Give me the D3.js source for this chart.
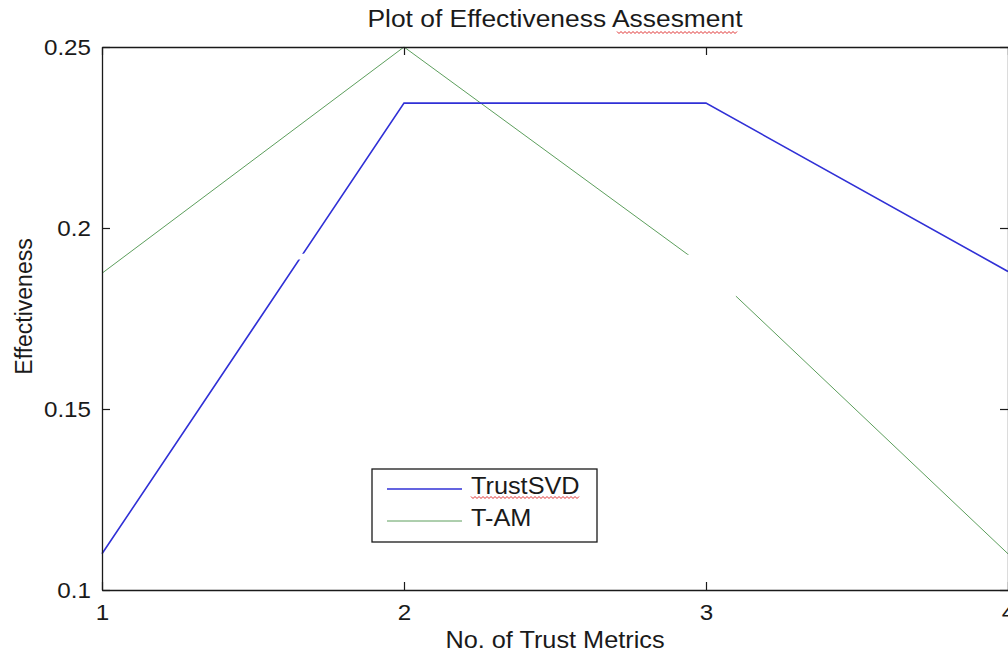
<!DOCTYPE html>
<html>
<head>
<meta charset="utf-8">
<script src="https://cdn.jsdelivr.net/npm/d3@7"></script>
<style>
  body { margin: 0; background: #fff; }
  text { font-family: "Liberation Sans", Arial, sans-serif; fill: #1a1a1a; }
</style>
</head>
<body>
<svg id="chart"></svg>
<script>
// Data
var metrics = [1, 2, 3, 4];
var trustSVD = [0.11, 0.2345, 0.2345, 0.188];
var tAM = [0.1875, 0.25, 0.189, 0.11];
var xTicks = [1, 2, 3, 4];
var yTicks = [0.1, 0.15, 0.2, 0.25];
var yTickLabels = ['0.1', '0.15', '0.2', '0.25'];
// white holes that cut the lines in the picture, in data units [x0, x1, y0, y1]
var holes = [[1.622, 1.722, 0.1913, 0.1929], [2.927, 3.099, 0.1805, 0.1926]];

var config = {
  svgWidth: 1008,
  svgHeight: 653,
  margin: { top: 47, left: 102, right: 0, bottom: 63 },
  tickLength: 8,
  tickFont: 22,
  labelFont: 23,
  titleFont: 24,
  textStretch: 1.1, // the picture's text is a bit wider than plain Arial
  blue: '#3030d6',
  green: '#5c9e5c',
};

var svg = d3.select('#chart')
  .attr('width', config.svgWidth)
  .attr('height', config.svgHeight);

// widen text horizontally about its own anchor point
function stretch(sel) {
  sel.each(function() {
    var t = d3.select(this);
    var tx = +t.attr('x') || 0, ty = +t.attr('y') || 0;
    t.attr('transform', 'translate(' + tx + ',' + ty + ') scale(' + config.textStretch + ',1) translate(' + (-tx) + ',' + (-ty) + ')');
  });
}

var gWidth = config.svgWidth - config.margin.left - config.margin.right;
var gHeight = config.svgHeight - config.margin.top - config.margin.bottom;
var g = svg.append('g')
  .attr('transform', 'translate(' + config.margin.left + ',' + config.margin.top + ')');

var x = d3.scaleLinear().domain([1, 4]).range([0, gWidth]);
var y = d3.scaleLinear().domain([0.1, 0.25]).range([gHeight, 0]);

var line = d3.line()
  .x(function(d) { return x(d[0]); })
  .y(function(d) { return y(d[1]); });

// series
g.append('path')
  .attr('d', line(metrics.map(function(m, i) { return [m, tAM[i]]; })))
  .attr('fill', 'none')
  .attr('stroke', config.green)
  .attr('stroke-width', 1);
g.append('path')
  .attr('d', line(metrics.map(function(m, i) { return [m, trustSVD[i]]; })))
  .attr('fill', 'none')
  .attr('stroke', config.blue)
  .attr('stroke-width', 1.6);

// holes
g.selectAll('.hole').data(holes).enter().append('rect')
  .attr('x', function(d) { return x(d[0]); })
  .attr('width', function(d) { return x(d[1]) - x(d[0]); })
  .attr('y', function(d) { return y(d[3]); })
  .attr('height', function(d) { return y(d[2]) - y(d[3]); })
  .attr('fill', '#fff');

// axes box (MATLAB style, inward ticks on all sides)
var noLabel = function() { return ''; };
var axisB = d3.axisBottom(x).tickValues(xTicks).tickSizeInner(-config.tickLength).tickSizeOuter(0).tickPadding(14).tickFormat(d3.format('d'));
var axisL = d3.axisLeft(y).tickValues(yTicks).tickSizeInner(-config.tickLength).tickSizeOuter(0).tickPadding(11)
  .tickFormat(function(d, i) { return yTickLabels[i]; });
var axisT = d3.axisTop(x).tickValues(xTicks).tickSizeInner(-config.tickLength).tickSizeOuter(0).tickFormat(noLabel);
var axisR = d3.axisRight(y).tickValues(yTicks).tickSizeInner(-config.tickLength).tickSizeOuter(0).tickFormat(noLabel);

[
  [axisB, 'translate(0,' + gHeight + ')'],
  [axisL, 'translate(0,0)'],
  [axisT, 'translate(0,0)'],
  [axisR, 'translate(' + gWidth + ',0)']
].forEach(function(a) {
  var ax = g.append('g').attr('transform', a[1]).call(a[0]);
  ax.select('.domain').attr('stroke', '#1a1a1a').attr('stroke-width', 1.3);
  ax.selectAll('.tick line').attr('stroke', '#1a1a1a').attr('stroke-width', 1.2);
  ax.selectAll('.tick text')
    .attr('font-size', config.tickFont + 'px')
    .style('font-family', '"Liberation Sans", Arial, sans-serif')
    .attr('fill', '#1a1a1a')
    .call(stretch);
});

// titles
svg.append('text')
  .attr('x', config.margin.left + gWidth / 2)
  .attr('y', 27)
  .attr('text-anchor', 'middle')
  .attr('font-size', config.titleFont + 'px')
  .text('Plot of Effectiveness Assesment')
  .call(stretch);

svg.append('text')
  .attr('x', config.margin.left + gWidth / 2)
  .attr('y', 648)
  .attr('text-anchor', 'middle')
  .attr('font-size', config.labelFont + 'px')
  .text('No. of Trust Metrics')
  .call(stretch);

svg.append('text')
  .attr('transform', 'translate(32,' + (config.margin.top + gHeight / 2 - 12) + ') rotate(-90)')
  .attr('text-anchor', 'middle')
  .attr('font-size', config.labelFont + 'px')
  .text('Effectiveness');

// red spell-check squiggle under a piece of text
function squiggle(x0, x1, yy) {
  var pts = [];
  for (var px = x0, k = 0; px <= x1; px += 2, k += 1) {
    pts.push([px, yy + (k % 2 ? 1.5 : -0.5)]);
  }
  svg.append('path')
    .attr('d', d3.line()(pts))
    .attr('fill', 'none')
    .attr('stroke', '#e03030')
    .attr('stroke-width', 1);
}
squiggle(617, 738, 32);

// legend
var legend = svg.append('g').attr('transform', 'translate(372,469)');
legend.append('rect')
  .attr('width', 225)
  .attr('height', 73)
  .attr('fill', '#fff')
  .attr('stroke', '#1a1a1a')
  .attr('stroke-width', 1.3);
var items = [['TrustSVD', config.blue, 1.6], ['T-AM', config.green, 1]];
items.forEach(function(it, i) {
  var yy = 20 + i * 32;
  legend.append('line')
    .attr('x1', 15).attr('x2', 90)
    .attr('y1', yy).attr('y2', yy)
    .attr('stroke', it[1])
    .attr('stroke-width', it[2]);
  legend.append('text')
    .attr('x', 99)
    .attr('y', yy + 5)
    .attr('font-size', config.labelFont + 'px')
    .text(it[0])
    .call(stretch);
});
squiggle(471, 580, 497);
</script>
</body>
</html>
